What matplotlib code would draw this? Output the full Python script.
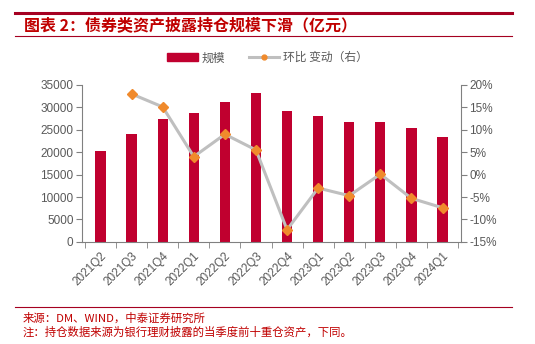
import numpy as np
import matplotlib.pyplot as plt
from matplotlib.lines import Line2D
from matplotlib.patches import Patch
from matplotlib.ticker import FuncFormatter

plt.rcParams['font.family'] = ['Liberation Sans', 'Noto Sans CJK SC', 'DejaVu Sans']

quarters = ['2021Q2', '2021Q3', '2021Q4', '2022Q1', '2022Q2', '2022Q3',
            '2022Q4', '2023Q1', '2023Q2', '2023Q3', '2023Q4', '2024Q1']
scale = [20200, 24000, 27500, 28700, 31200, 33100,
         29100, 28100, 26800, 26800, 25400, 23500]
qoq = [np.nan, 18.0, 15.1, 4.0, 9.0, 5.5,
       -12.3, -3.0, -4.7, 0.1, -5.3, -7.4]

red = '#C0002F'
grey_txt = '#595959'
cjk = ['Noto Sans CJK SC', 'DejaVu Sans']

fig = plt.figure(figsize=(5.35, 3.44), dpi=100)
ax = fig.add_axes([0.153, 0.297, 0.709, 0.456])
x = np.arange(len(quarters))
ax.bar(x, scale, width=0.33, color=red, zorder=2)
ax.set_ylim(0, 35000)
ax.set_yticks(range(0, 35001, 5000))
ax.set_xlim(-0.6, len(quarters) - 0.4)
ax.set_xticks(x)
ax.set_xticklabels(quarters, rotation=45, ha='right', rotation_mode='anchor')
ax.set_xticks(np.arange(-0.5, len(quarters), 1), minor=True)
ax.tick_params(axis='x', which='major', length=0, pad=6)
ax.tick_params(axis='x', which='minor', length=4, color='#808080')
ax.tick_params(axis='y', length=4, color='#808080', pad=2)
ax.tick_params(labelsize=8.5, labelcolor=grey_txt)
for s in ['top', 'right']:
    ax.spines[s].set_visible(False)
for s in ['left', 'bottom']:
    ax.spines[s].set_color('#808080')

ax2 = ax.twinx()
ax2.plot(x, qoq, color='#BFBFBF', lw=2.2, marker='D', ms=5,
         mfc='#F08A2C', mec='#F08A2C', zorder=3)
ax2.set_ylim(-15, 20)
ax2.set_yticks(range(-15, 21, 5))
ax2.yaxis.set_major_formatter(FuncFormatter(lambda v, p: f'{v:.0f}%'))
ax2.tick_params(axis='y', length=4, color='#808080', labelsize=8.5,
                labelcolor=grey_txt, pad=2)
for s in ['top', 'left', 'bottom']:
    ax2.spines[s].set_visible(False)
ax2.spines['right'].set_color('#808080')

handles = [Patch(color=red),
           Line2D([0], [0], color='#BFBFBF', lw=2.2, marker='o', ms=3.5,
                  mfc='#F08A2C', mec='#F08A2C')]
fig.legend(handles, ['规模', '环比 变动（右）'], loc='center',
           bbox_to_anchor=(0.5, 0.832), ncol=2, frameon=False,
           prop={'family': cjk, 'size': 8.5}, labelcolor=grey_txt,
           handlelength=2.6, handleheight=0.7, columnspacing=2.0,
           handletextpad=0.3)

# header and footer lines
fig.add_artist(Line2D([0.028, 0.957], [0.962, 0.962], color='#A50021', lw=2.2))
fig.add_artist(Line2D([0.028, 0.957], [0.895, 0.895], color='#A50021', lw=0.8))
fig.add_artist(Line2D([0.028, 0.957], [0.108, 0.108], color='#A50021', lw=0.8))
fig.text(0.045, 0.926, '图表 2：债券类资产披露持仓规模下滑（亿元）', color='#C00000',
         fontsize=11.5, fontweight='bold', style='italic', family=cjk, va='center')
fig.text(0.043, 0.074, '来源：DM、WIND，中泰证券研究所', color='#C00000',
         fontsize=8.2, family=cjk, va='center')
fig.text(0.043, 0.036, '注：持仓数据来源为银行理财披露的当季度前十重仓资产，下同。',
         color='#C00000', fontsize=8.2, family=cjk, va='center')

fig.savefig('out.png', dpi=100)
